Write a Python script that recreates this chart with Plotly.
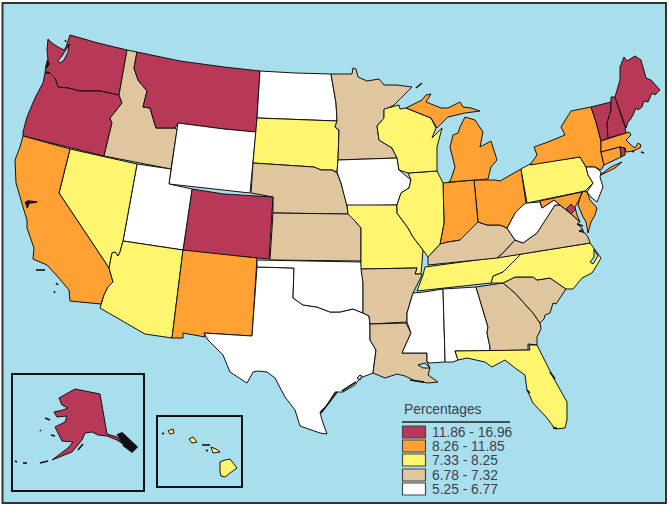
import plotly.graph_objects as go

# percentage classes, darkest first, as in the legend
class_labels = ['11.86 - 16.96', '8.26 - 11.85', '7.33 - 8.25', '6.78 - 7.32', '5.25 - 6.77']
class_colors = ['#B83858', '#FFA233', '#FFF56F', '#DFC69F', '#FFFFFF']
water = '#A9DFEC'

state_class = {
    'WA': 0, 'OR': 0, 'MT': 0, 'CO': 0, 'AK': 0, 'ME': 0, 'NH': 0, 'VT': 0, 'RI': 0, 'DC': 0,
    'CA': 1, 'NM': 1, 'MI': 1, 'MI_UP': 1, 'IN': 1, 'OH': 1, 'NY': 1, 'LI': 1, 'MA': 1, 'CT': 1, 'MD': 1, 'DELMARVA': 1,
    'NV': 2, 'AZ': 2, 'SD': 2, 'WI': 2, 'IL': 2, 'MO': 2, 'TN': 2, 'NC': 2, 'PA': 2, 'FL': 2,
    'HI1': 2, 'HI2': 2, 'HI3': 2, 'HI4': 2,
    'ID': 3, 'NE': 3, 'KS': 3, 'MN': 3, 'AR': 3, 'LA': 3, 'KY': 3, 'VA': 3, 'GA': 3, 'SC': 3,
    'WY': 4, 'UT': 4, 'ND': 4, 'IA': 4, 'OK': 4, 'TX': 4, 'MS': 4, 'AL': 4, 'WV': 4, 'NJ': 4,
}

# state outlines, one x,y list per state
WA = [(48,39),(52,43),(58,47),(64,50),(66,47),(68,42),(70,35),(98,43),(127,50),(119,95),(100,91),(80,91),(68,88),(58,87),(55,78),(50,73),(45,73),(46,65),(48,60),(47,50)]
OR = [(45,73),(50,73),(55,78),(58,87),(68,88),(80,91),(100,91),(119,95),(122,103),(115,112),(110,118),(112,123),(104,156),(23,136),(23,132),(27,117),(35,98),(43,83)]
ID = [(127,50),(137,52),(134,68),(138,80),(147,91),(143,107),(150,108),(156,128),(175,128),(177,130),(171,169),(104,156),(112,123),(110,118),(115,112),(122,103),(119,95)]
MT = [(137,52),(180,61),(224,67),(260,71),(256,132),(224,129),(178,123),(175,128),(156,128),(150,108),(143,107),(147,91),(138,80),(134,68)]
WY = [(178,123),(224,129),(256,132),(250,193),(169,184)]
ND = [(260,71),(295,73),(331,74),(336,103),(337,121),(257,118)]
SD = [(257,118),(337,121),(335,127),(339,130),(338,160),(337,172),(332,170),(321,170),(314,167),(253,163)]
NE = [(253,163),(314,167),(321,170),(332,170),(337,173),(341,183),(347,205),(348,214),(273,213),(273,197),(251,193)]
KS = [(273,213),(348,214),(355,221),(361,228),(361,261),(270,260)]
CO = [(192,189),(224,194),(273,197),(272,213),(269,259),(200,253),(183,250)]
UT = [(137,164),(171,169),(169,184),(192,189),(183,250),(123,241)]
NV = [(70,149),(137,164),(123,241),(120,252),(118,256),(115,252),(112,253),(109,268),(59,193)]
CA = [(23,136),(70,149),(59,193),(109,268),(113,282),(108,287),(104,295),(101,304),(70,301),(69,290),(58,277),(47,265),(33,259),(34,248),(27,228),(27,220),(23,207),(20,197),(16,183),(15,160),(20,147)]
AZ = [(123,241),(183,250),(172,338),(145,334),(100,308),(101,304),(104,295),(108,287),(113,282),(109,268),(112,253),(115,252),(118,256),(120,252)]
NM = [(183,250),(257,258),(252,336),(204,333),(205,337),(183,333),(183,338),(172,338)]
TX = [(257,267),(294,268),(293,298),(303,305),(317,307),(330,312),(340,312),(353,309),(363,313),(369,316),(370,325),(370,340),(376,350),(374,368),(373,373),(360,378),(355,385),(343,392),(335,392),(327,405),(320,412),(322,420),(327,434),(320,433),(300,426),(295,410),(285,397),(275,378),(267,372),(258,371),(253,372),(247,383),(230,372),(223,355),(208,340),(204,333),(252,336)]
OK = [(257,260),(361,262),(363,283),(363,313),(353,309),(340,312),(330,312),(317,307),(303,305),(293,298),(294,268),(257,267)]
MN = [(331,74),(352,74),(353,68),(356,69),(358,77),(367,81),(379,79),(384,85),(397,85),(412,87),(394,105),(384,110),(384,118),(377,126),(379,140),(392,148),(397,158),(338,160),(339,130),(335,127),(337,121),(336,103)]
IA = [(338,160),(397,158),(399,170),(411,180),(409,188),(401,193),(397,205),(347,206),(341,183),(337,173),(337,172)]
MO = [(347,205),(397,205),(397,213),(408,228),(413,237),(423,250),(422,262),(421,274),(415,274),(417,268),(361,269),(361,228),(355,221),(348,214)]
AR = [(361,269),(417,268),(415,274),(421,274),(422,275),(413,293),(407,313),(407,322),(370,324),(369,316),(363,313),(363,283)]
LA = [(370,324),(406,323),(411,333),(402,353),(427,353),(427,362),(430,368),(428,375),(438,382),(428,383),(415,381),(405,376),(397,374),(385,378),(373,373),(376,350),(370,340)]
MS = [(424,292),(443,289),(445,358),(445,362),(430,363),(427,362),(427,353),(402,353),(411,333),(407,322),(407,313),(413,293)]
AL = [(443,289),(476,287),(488,327),(487,333),(490,347),(490,351),(455,351),(458,360),(453,362),(445,362),(445,358)]
GA = [(476,287),(503,283),(515,293),(533,313),(540,323),(541,329),(537,337),(537,345),(528,344),(528,350),(490,351),(490,347),(487,333),(488,327)]
SC = [(503,283),(515,277),(533,277),(537,280),(550,278),(566,289),(560,298),(556,304),(553,303),(550,313),(545,315),(544,319),(540,323),(533,313),(515,293)]
NC = [(491,283),(493,276),(503,272),(513,262),(521,254),(590,243),(597,253),(601,258),(597,265),(592,273),(582,278),(573,289),(566,289),(550,278),(537,280),(533,277),(515,277),(503,283)]
TN = [(425,267),(521,254),(513,262),(503,272),(493,276),(491,283),(417,291),(423,275)]
KY = [(428,265),(428,257),(440,244),(447,242),(460,240),(472,228),(478,222),(487,225),(500,225),(507,228),(515,240),(503,253),(497,258)]
VA = [(497,258),(503,253),(515,240),(523,243),(537,233),(543,223),(555,205),(560,205),(570,213),(580,222),(577,224),(583,229),(579,231),(585,233),(588,237),(590,243)]
WV = [(524,190),(526,203),(540,202),(542,208),(554,200),(560,205),(555,205),(543,223),(537,233),(523,243),(515,240),(507,228),(515,213),(523,205)]
OH = [(474,180),(495,180),(500,181),(521,169),(524,190),(526,203),(523,205),(515,213),(507,228),(500,225),(487,225),(478,222)]
IN = [(443,183),(474,180),(478,222),(472,228),(460,240),(447,242),(440,244),(444,223)]
IL = [(408,173),(437,171),(443,183),(444,223),(440,244),(428,257),(423,250),(413,237),(408,228),(397,213),(397,205),(401,193),(409,188),(411,180)]
WI = [(384,109),(399,105),(400,109),(406,108),(431,118),(436,128),(432,138),(442,128),(437,147),(437,171),(408,173),(399,170),(397,158),(392,148),(379,140),(377,126),(384,118)]
MI_UP = [(406,108),(422,100),(426,95),(431,94),(426,102),(441,108),(448,108),(460,102),(463,107),(471,108),(480,111),(465,113),(448,117),(437,128),(431,118)]
MI = [(465,117),(475,120),(483,132),(480,147),(491,141),(497,160),(491,167),(488,179),(449,182),(451,179),(455,167),(450,147),(453,135),(458,133),(460,127)]
PA = [(521,169),(530,164),(580,157),(586,167),(588,175),(593,183),(585,191),(527,203)]
NY = [(530,165),(537,155),(534,147),(548,142),(565,135),(561,127),(571,111),(591,107),(596,122),(601,141),(601,152),(604,165),(601,170),(595,167),(586,167),(580,157)]
LI = [(600,175),(611,167),(622,162),(615,168),(601,175)]
VT = [(591,107),(611,102),(611,110),(607,123),(608,138),(601,141),(596,122)]
NH = [(611,97),(615,97),(625,127),(626,133),(608,138),(607,123),(611,110)]
ME = [(615,97),(620,80),(620,67),(624,57),(627,61),(635,56),(641,60),(646,78),(651,80),(660,90),(655,95),(652,93),(648,102),(644,101),(642,107),(638,110),(636,108),(633,115),(630,120),(628,122),(626,128)]
MA = [(601,141),(626,133),(629,132),(631,135),(626,140),(631,145),(635,148),(638,143),(641,145),(640,148),(633,151),(626,152),(625,148),(620,147),(601,152)]
RI = [(620,147),(625,148),(625,155),(621,157)]
CT = [(601,152),(620,147),(621,157),(604,165)]
NJ = [(586,167),(595,167),(601,172),(600,177),(603,187),(597,202),(592,198),(587,192),(593,183),(588,175)]
MD = [(540,201),(582,192),(579,200),(575,207),(577,215),(580,222),(570,213),(560,205),(554,200),(542,208)]
DELMARVA = [(583,191),(587,192),(590,200),(597,208),(595,215),(591,222),(588,233),(586,222),(583,217),(578,205),(580,198)]
DC = [(566,209),(571,204),(576,209),(571,214)]
FL = [(455,351),(530,350),(529,345),(537,345),(553,377),(567,402),(567,420),(565,428),(555,429),(547,418),(533,403),(527,390),(525,375),(515,368),(505,360),(492,367),(485,362),(467,358),(458,360)]
AK = [(59,398),(75,389),(100,394),(107,434),(117,437),(123,444),(117,440),(107,436),(98,435),(92,432),(85,433),(82,440),(72,452),(52,460),(68,448),(73,442),(62,441),(58,432),(55,427),(65,422),(67,416),(57,417),(54,412),(63,410),(68,408),(62,405)]
HI1 = [(220,462),(225,460),(230,459),(234,464),(237,468),(230,473),(225,477),(221,476),(220,472)]
HI2 = [(211,447),(216,449),(220,452),(213,453)]
HI3 = [(189,439),(193,437),(197,442),(192,443)]
HI4 = [(168,431),(173,429),(174,433),(170,434)]

state_shapes = {
    'WA': WA, 'OR': OR, 'ID': ID, 'MT': MT, 'WY': WY, 'ND': ND, 'SD': SD, 'NE': NE, 'KS': KS, 'CO': CO,
    'UT': UT, 'NV': NV, 'CA': CA, 'AZ': AZ, 'NM': NM, 'TX': TX, 'OK': OK, 'MN': MN, 'IA': IA, 'MO': MO,
    'AR': AR, 'LA': LA, 'MS': MS, 'AL': AL, 'GA': GA, 'SC': SC, 'NC': NC, 'TN': TN, 'KY': KY, 'VA': VA,
    'WV': WV, 'OH': OH, 'IN': IN, 'IL': IL, 'WI': WI, 'MI_UP': MI_UP, 'MI': MI, 'PA': PA, 'NY': NY, 'LI': LI,
    'VT': VT, 'NH': NH, 'ME': ME, 'MA': MA, 'RI': RI, 'CT': CT, 'NJ': NJ, 'MD': MD, 'DELMARVA': DELMARVA,
    'DC': DC, 'FL': FL, 'AK': AK, 'HI1': HI1, 'HI2': HI2, 'HI3': HI3, 'HI4': HI4,
}

# bays and sounds, cut back out of the states
inlets = [
    [(67,48),(69,44),(68,52),(64,60),(60,63),(58,61),(62,56)],
    [(418,365),(425,363),(430,368),(423,368)],
    [(594,249),(598,256),(593,264),(590,262),(594,257)],
    [(357,378),(360,375),(362,376),(360,380)],
]

# little islands and coast clutter that print as black specks
specks = [
    [(65,40),(66,42)], [(68,46),(70,44)], [(47,60),(49,64),(46,68)], [(46,72),(50,73)],
    [(25,203),(28,201),(37,202),(29,203),(27,208)],
    [(36,270),(45,270)], [(56,283),(58,285)], [(54,291),(55,293)],
    [(550,372),(555,379)], [(527,390),(530,393)], [(553,428),(557,428)],
    [(117,435),(122,433),(137,447),(132,452),(123,445)],
    [(45,418),(50,420)], [(51,435),(55,436)], [(40,430),(41,431)],
    [(15,461),(17,462)], [(23,463),(27,463)], [(40,463),(48,461)],
    [(78,450),(83,444)], [(162,434),(164,433)], [(202,445),(210,445)], [(206,450),(208,451)],
    [(632,151),(634,152)], [(641,152),(644,153)],
    [(416,88),(422,83)],
    [(321,413),(328,404),(337,392)], [(342,391),(356,382)], [(410,380),(424,382)],
    [(577,224),(583,226)], [(579,231),(584,231)],
]

fig = go.Figure()

# sea and frame go under the states
fig.add_shape(type='rect', x0=2.5, y0=3, x1=666, y1=503, fillcolor=water,
              line=dict(color='#333333', width=2), layer='below')

for name, pts in state_shapes.items():
    fig.add_trace(go.Scatter(
        x=[p[0] for p in pts] + [pts[0][0]],
        y=[p[1] for p in pts] + [pts[0][1]],
        mode='lines', fill='toself',
        fillcolor=class_colors[state_class[name]],
        line=dict(color='#111111', width=1),
        hoverinfo='text', text=name, showlegend=False,
    ))

for pts in inlets:
    fig.add_trace(go.Scatter(
        x=[p[0] for p in pts] + [pts[0][0]],
        y=[p[1] for p in pts] + [pts[0][1]],
        mode='lines', fill='toself', fillcolor=water,
        line=dict(color='#111111', width=1),
        hoverinfo='skip', showlegend=False,
    ))

for pts in specks:
    fig.add_trace(go.Scatter(
        x=[p[0] for p in pts], y=[p[1] for p in pts],
        mode='lines', fill='toself', fillcolor='#111111',
        line=dict(color='#111111', width=1.6),
        hoverinfo='skip', showlegend=False,
    ))

# the two inset boxes
fig.add_shape(type='rect', x0=12, y0=374, x1=144, y1=491, line=dict(color='#111111', width=2), layer='above')
fig.add_shape(type='rect', x0=157, y0=416, x1=242, y1=487, line=dict(color='#111111', width=2), layer='above')

# legend drawn by hand, plotly's own cannot be laid out like this one
fig.add_annotation(x=401.5, y=409.5, text='Percentages', showarrow=False, xanchor='left',
                   font=dict(family='Liberation Sans', size=13.8, color='#3A3F4A'))
fig.add_shape(type='line', x0=402, y0=422, x1=510, y1=422, line=dict(color='#222222', width=1.5))
swatch_top = [426, 440, 454, 469, 483]
for top, label, color in zip(swatch_top, class_labels, class_colors):
    fig.add_shape(type='rect', x0=402.5, y0=top, x1=425.5, y1=top + 12,
                  fillcolor=color, line=dict(color='#444444', width=1.2))
    fig.add_annotation(x=429.5, y=top + 6, text=label, showarrow=False, xanchor='left',
                       font=dict(family='Liberation Sans', size=13.8, color='#3A3F4A'))

fig.update_layout(
    width=672, height=508,
    margin=dict(l=0, r=0, t=0, b=0),
    paper_bgcolor='white',
    plot_bgcolor='white',
    xaxis=dict(range=[0, 672], visible=False, fixedrange=True),
    yaxis=dict(range=[508, 0], visible=False, fixedrange=True),
)

fig.write_html("out.html", config={'displayModeBar': False}, post_script="document.body.style.margin='0';")
